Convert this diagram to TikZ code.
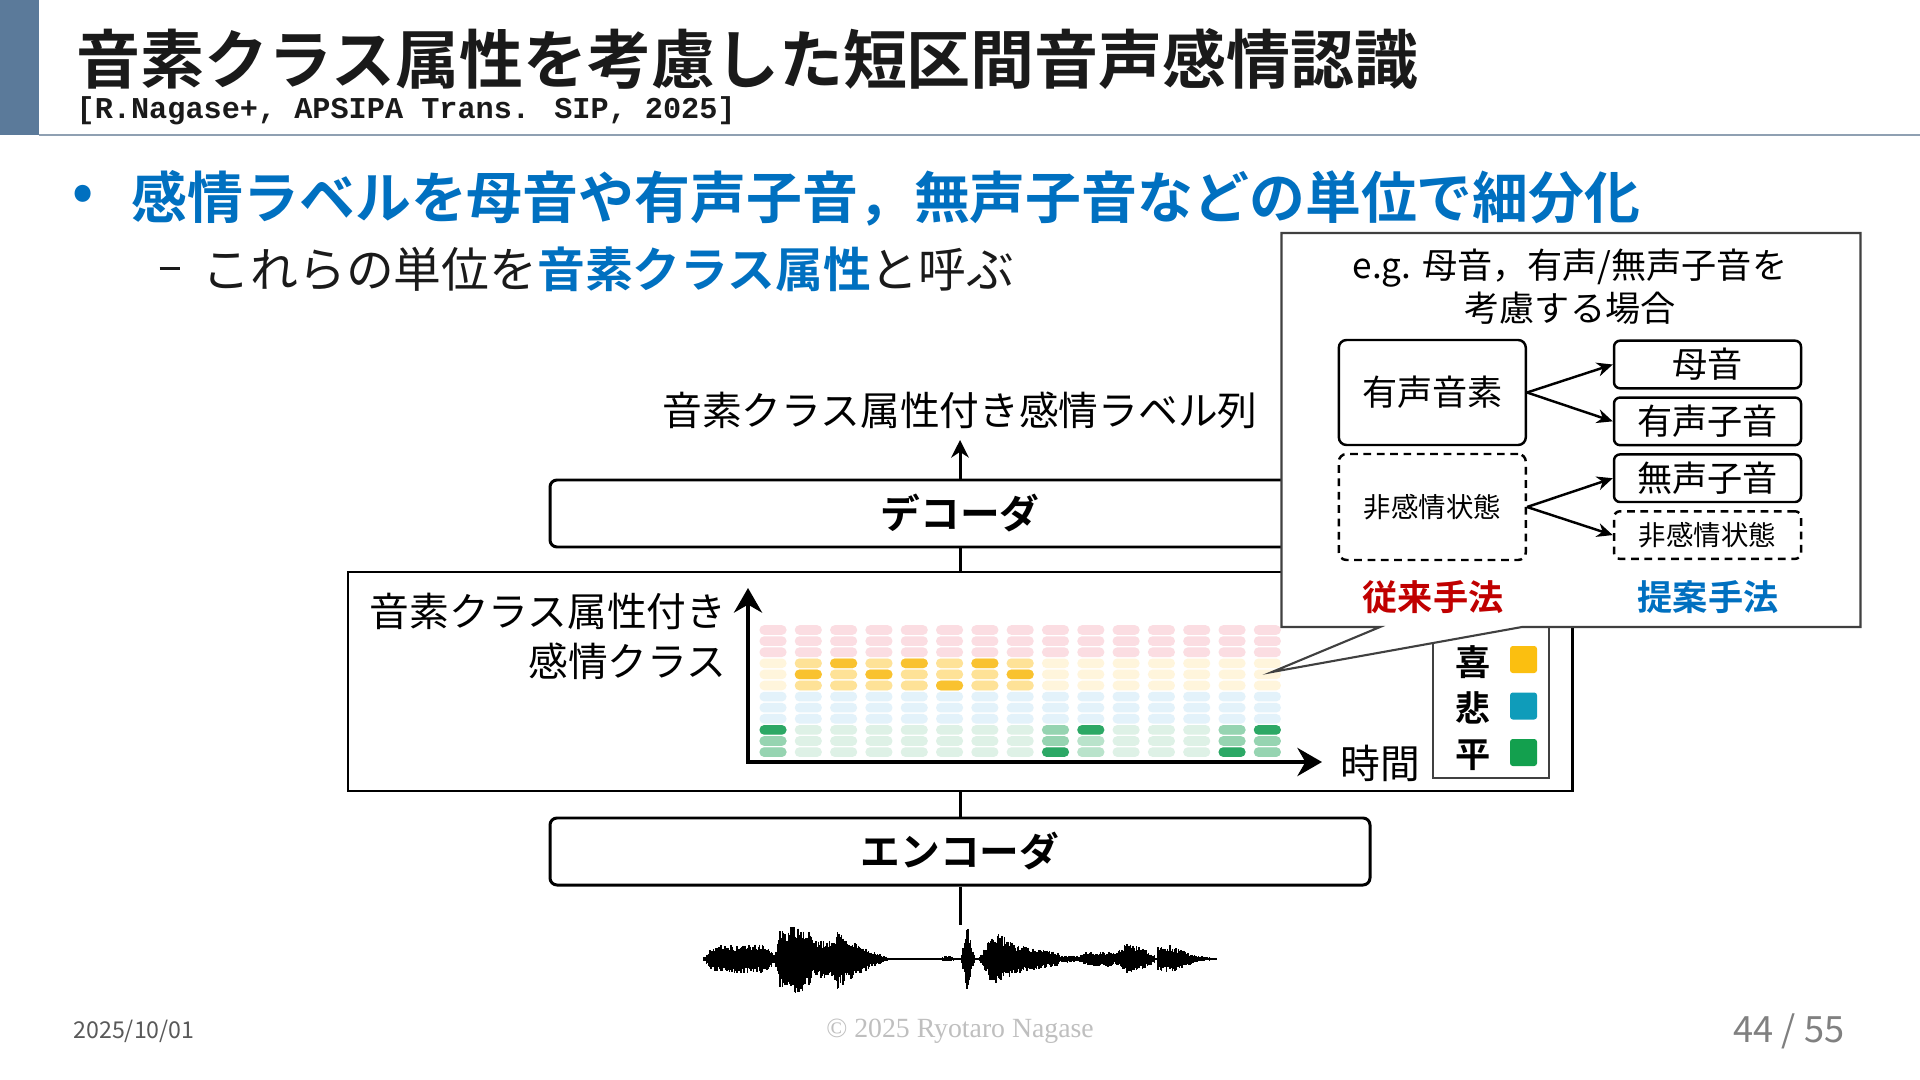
\documentclass[tikz,border=0pt]{standalone}
\usepackage{fontspec}
\setmainfont{Noto Sans CJK JP}[BoldFont={Noto Sans CJK JP Bold}]
\newfontfamily\citemono{Liberation Mono}
\newfontfamily\footserif{Liberation Serif}
\usetikzlibrary{arrows.meta,positioning,calc,backgrounds}
\definecolor{cbar}{HTML}{5B7A9A}
\definecolor{crule}{HTML}{8FA0B2}
\definecolor{cblue}{HTML}{0070C0}
\definecolor{cred}{HTML}{C00000}
\definecolor{cink}{HTML}{1A1A1A}
\definecolor{cpk}{HTML}{FBDDE2}
\definecolor{cyl}{HTML}{FFF5DC}
\definecolor{cym}{HTML}{FEE297}
\definecolor{cyd}{HTML}{F9C22F}
\definecolor{cbl}{HTML}{E3F2FA}
\definecolor{cgl}{HTML}{DEF1E6}
\definecolor{cgs}{HTML}{B9E3CB}
\definecolor{cgm}{HTML}{96D4B1}
\definecolor{cgd}{HTML}{2CA865}
\definecolor{kjoy}{HTML}{FBBF10}
\definecolor{ksad}{HTML}{0F9CBA}
\definecolor{kcalm}{HTML}{13A04E}
\newcommand{\emocell}[3]{\fill[#3, rounded corners=1.3pt] ({7.595+0.3531*(#1-1)},{-6.252-0.111*(#2-1)}) rectangle ++(0.27,-0.096);}

\begin{document}
\begin{tikzpicture}[
  font=\fontsize{11.3}{13.6}\selectfont,
  blk/.style={draw, line width=0.85pt, rounded corners=2pt, minimum width=8.2cm, minimum height=0.67cm,
              inner sep=0pt, font=\fontsize{11.3}{13.6}\selectfont\bfseries},
  link/.style={line width=0.85pt},
  flow/.style={-{Stealth[length=5pt,width=5pt]}, line width=0.85pt},
  ax/.style={{Stealth[length=7pt,width=8pt]}-{Stealth[length=7pt,width=8pt]}, line width=1.1pt},
  cbox/.style={draw, line width=0.7pt, rounded corners=1.7pt, minimum width=1.87cm, minimum height=0.476cm,
               inner sep=0pt, font=\fontsize{10}{12}\selectfont},
  neutral/.style={dash pattern=on 2.2pt off 1.6pt, font=\fontsize{7.8}{9}\selectfont},
  split/.style={-{Stealth[length=4.5pt,width=4pt]}, line width=0.7pt},
  keych/.style={font=\fontsize{10}{12}\selectfont\bfseries},
  swatch/.style={rounded corners=0.8pt, minimum size=0.27cm, inner sep=0pt},
  sig/.style={line width=0.5pt},
]
\fill[white] (0,0) rectangle (19.2,-10.8);
\useasboundingbox (0,0) rectangle (19.2,-10.8);

% ------------------------------------------------------------------ header
\fill[cbar] (0,0) rectangle (0.39,-1.35);
\draw[crule, line width=0.6pt] (0.39,-1.35) -- (19.2,-1.35);
\node[anchor=west, inner sep=0pt, text=cink, font=\fontsize{18.2}{21}\selectfont\bfseries] (title) at (0.76,-0.59)
  {音素クラス属性を考慮した短区間音声感情認識};
\node[anchor=west, inner sep=0pt, text=cink, font=\fontsize{8.6}{10}\selectfont\citemono\bfseries] (cite) at (0.76,-1.11)
  {[R.Nagase+, APSIPA Trans. SIP, 2025]};

% ------------------------------------------------------------------ bullets
\node[inner sep=0pt, text=cblue, font=\fontsize{15.9}{18}\selectfont\bfseries] (dot) at (0.83,-1.98) {•};
\node[anchor=west, inner sep=0pt, text=cblue, font=\fontsize{15.9}{18}\selectfont\bfseries] (point) at (1.31,-1.98)
  {感情ラベルを母音や有声子音，無声子音などの単位で細分化};
\node[anchor=west, inner sep=0pt, text=cink, font=\fontsize{13.6}{16}\selectfont] (subpoint) at (1.59,-2.69)
  {\rule[0.36em]{0.42em}{0.06em}\hspace{0.48em}これらの単位を\textcolor{cblue}{\bfseries 音素クラス属性}と呼ぶ};

% ------------------------------------------------------------------ model
\node (seq) at (9.60,-4.10) {音素クラス属性付き感情ラベル列};
\coordinate (seqin) at (9.60,-4.40);
\node[blk] (dec) at (9.60,-5.135) {デコーダ};
\node[draw, line width=0.85pt, minimum width=12.24cm, minimum height=2.19cm, inner sep=0pt] (est) at (9.60,-6.815) {};
\node[blk] (enc) at (9.60,-8.515) {エンコーダ};
\coordinate (wav) at (9.60,-9.25);

\draw[flow] (dec.north) -- (seqin);
\draw[link] (dec.south) -- (est.north);
\draw[link] (est.south) -- (enc.north);
\draw[link] (enc.south) -- (wav);

% ------------------------------------------------------------------ class grid
\coordinate (o) at (7.48,-7.62);
\coordinate (ytop) at (7.48,-5.88);
\coordinate (xend) at (13.22,-7.62);
\foreach \c in {1,...,15}{
  \foreach \r in {1,2,3}{\emocell{\c}{\r}{cpk}}
  \foreach \r in {4,5,6}{\emocell{\c}{\r}{cyl}}
  \foreach \r in {7,8,9}{\emocell{\c}{\r}{cbl}}
  \foreach \r in {10,11,12}{\emocell{\c}{\r}{cgl}}
}
\foreach \c in {2,...,8}{\foreach \r in {4,5,6}{\emocell{\c}{\r}{cym}}}
\foreach \c/\r in {3/4,5/4,7/4,2/5,4/5,8/5,6/6}{\emocell{\c}{\r}{cyd}}
\foreach \c/\r in {1/11,1/12,9/10,9/11,14/10,14/11,15/11,15/12}{\emocell{\c}{\r}{cgm}}
\foreach \c/\r in {10/11,10/12}{\emocell{\c}{\r}{cgs}}
\foreach \c/\r in {1/10,9/12,10/10,14/12,15/10}{\emocell{\c}{\r}{cgd}}
\draw[ax] (ytop) -- (o) -- (xend);
\node[anchor=east, align=right, inner sep=0pt, font=\fontsize{11.3}{14.2}\selectfont] (ylab) at (7.27,-6.36)
  {音素クラス属性付き\\感情クラス};
\node (tlab) at (13.80,-7.63) {時間};

% ------------------------------------------------------------------ legend
\node[draw, line width=0.5pt, draw=black!75, minimum width=1.16cm, minimum height=1.68cm, inner sep=0pt] (leg) at (14.91,-6.94) {};
\node[keych] (kj) at (14.73,-6.62) {喜};
\node[keych] (ks) at (14.73,-7.08) {悲};
\node[keych] (kc) at (14.73,-7.55) {平};
\node[swatch, fill=kjoy]  (sj) at (15.235,-6.595) {};
\node[swatch, fill=ksad]  (ss) at (15.235,-7.06) {};
\node[swatch, fill=kcalm] (sc) at (15.235,-7.525) {};

% ------------------------------------------------------------------ waveform
\pgfmathsetseed{5}
\draw[sig, line width=0.6pt] (7.04,-9.59) -- (12.17,-9.59);
\foreach \xa/\ya/\xb/\yb in {7.04/0.02/7.10/0.10, 7.10/0.10/7.20/0.14, 7.20/0.14/7.60/0.15, 7.60/0.15/7.69/0.12,
    7.69/0.12/7.75/0.05, 7.75/0.05/7.80/0.28, 7.80/0.28/8.00/0.36, 8.00/0.36/8.09/0.30, 8.09/0.30/8.15/0.20,
    8.15/0.20/8.34/0.18, 8.34/0.18/8.38/0.30, 8.38/0.30/8.60/0.15, 8.60/0.15/8.75/0.07, 8.75/0.07/8.90/0.01,
    9.40/0.01/9.45/0.03, 9.45/0.03/9.50/0.03, 9.50/0.03/9.57/0.01, 9.62/0.06/9.68/0.33, 9.68/0.33/9.74/0.06,
    9.80/0.02/9.85/0.12, 9.85/0.12/9.95/0.30, 9.95/0.30/10.15/0.15, 10.15/0.15/10.40/0.10, 10.40/0.10/10.59/0.07,
    10.59/0.04/10.80/0.03, 10.80/0.03/10.85/0.07, 10.85/0.07/11.10/0.08, 11.10/0.08/11.16/0.06, 11.16/0.06/11.28/0.16,
    11.28/0.16/11.45/0.10, 11.45/0.10/11.55/0.04, 11.58/0.12/11.70/0.14, 11.70/0.14/11.85/0.08, 11.85/0.08/11.95/0.04,
    11.95/0.04/12.17/0.005}{
  \pgfmathtruncatemacro{\nw}{(\xb-\xa)/0.012}
  \foreach \k in {0,...,\nw}{
    \pgfmathsetmacro{\wx}{\xa+0.012*\k}
    \pgfmathsetmacro{\we}{\ya+(\yb-\ya)*\k/max(\nw,1)}
    \pgfmathsetmacro{\wu}{\we*(0.55+0.45*rnd)}
    \pgfmathsetmacro{\wd}{\we*(0.55+0.45*rnd)}
    \draw[sig] ({\wx},{-9.59+\wu}) -- ({\wx},{-9.59-\wd});
  }
}

% ------------------------------------------------------------------ callout
\coordinate (tip) at (12.72,-6.72);
\draw[line width=0.6pt, draw=black!75, fill=white] (12.815,-2.33) -- (18.605,-2.33) -- (18.605,-6.27)
  -- (15.22,-6.27) -- (tip) -- (13.80,-6.27) -- (12.815,-6.27) -- cycle;
\node[align=center, inner sep=0pt, font=\fontsize{10}{12.2}\selectfont] (eg) at (15.70,-2.865)
  {e.g. 母音，有声/無声子音を\\考慮する場合};
\node[cbox, minimum height=1.05cm, rounded corners=2.2pt, font=\fontsize{10}{12}\selectfont] (vsrc) at (14.323,-3.925) {有声音素};
\node[cbox, neutral, minimum height=1.06cm, rounded corners=2.2pt] (nsrc) at (14.323,-5.07) {非感情状態};
\node[cbox] (vow) at (17.075,-3.645) {母音};
\node[cbox, below=0.068cm of vow] (vcon) {有声子音};
\node[cbox, below=0.068cm of vcon] (ucon) {無声子音};
\node[cbox, neutral, below=0.068cm of ucon] (ndst) {非感情状態};
\draw[split] (vsrc.east) -- (vow.west);
\draw[split] (vsrc.east) -- (vcon.west);
\draw[split] (nsrc.east) -- (ucon.west);
\draw[split] (nsrc.east) -- (ndst.west);
\node[keych, text=cred]  (conv) at (14.33,-5.97) {従来手法};
\node[keych, text=cblue] (prop) at (17.08,-5.97) {提案手法};

% ------------------------------------------------------------------ footer
\node[text=black!65, font=\fontsize{6.6}{8}\selectfont] (date) at (1.34,-10.31) {2025/10/01};
\node[text=black!25, font=\fontsize{7.9}{9}\selectfont\footserif] (copy) at (9.60,-10.31) {© 2025 Ryotaro Nagase};
\node[text=black!50, font=\fontsize{10.3}{12}\selectfont] (page) at (17.89,-10.31) {44 / 55};
\end{tikzpicture}
\end{document}
